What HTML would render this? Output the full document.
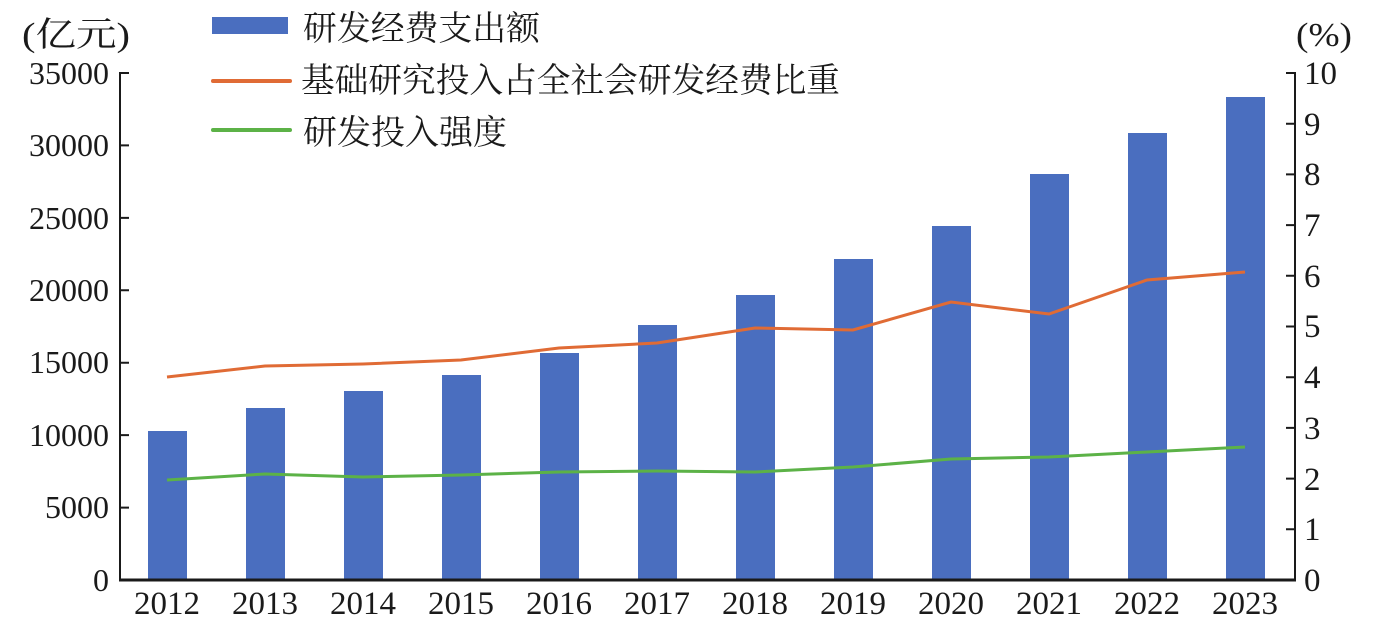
<!DOCTYPE html><html><head><meta charset="utf-8"><style>body{margin:0;background:#fff}svg{display:block}</style></head><body>
<svg width="1380" height="629" xmlns="http://www.w3.org/2000/svg" font-family="Liberation Serif, Noto Serif CJK SC, serif" fill="#1a1a1a">
<g fill="#4a6ebf">
<rect x="148" y="431" width="39" height="149"/><rect x="246" y="408" width="39" height="172"/><rect x="344" y="391" width="39" height="189"/><rect x="442" y="375" width="39" height="205"/><rect x="540" y="353" width="39" height="227"/><rect x="638" y="325" width="39" height="255"/><rect x="736" y="295" width="39" height="285"/><rect x="834" y="259" width="39" height="321"/><rect x="932" y="226" width="39" height="354"/><rect x="1030" y="174" width="39" height="406"/><rect x="1128" y="133" width="39" height="447"/><rect x="1226" y="97" width="39" height="483"/>
</g>
<polyline fill="none" stroke="#e06b35" stroke-width="3" points="167,377 265,366 363,364 461,360 559,348 657,343 755,328 853,330 951,302 1049,314 1147,280 1245,272"/>
<polyline fill="none" stroke="#5cb247" stroke-width="3" points="167,480 265,474 363,477 461,475 559,472 657,471 755,472 853,467 951,459 1049,457 1147,452 1245,447"/>
<g stroke="#1a1a1a" stroke-width="2">
<line x1="120" y1="72" x2="120" y2="581"/><line x1="1295" y1="72" x2="1295" y2="581"/>
<line x1="119" y1="580" x2="1296" y2="580" stroke-width="3"/>
<path d="M120 73h9M120 145.4h9M120 217.9h9M120 290.3h9M120 362.7h9M120 435.1h9M120 507.6h9"/>
<path d="M1286 73h9M1286 123.7h9M1286 174.4h9M1286 225.1h9M1286 275.8h9M1286 326.5h9M1286 377.2h9M1286 427.9h9M1286 478.6h9M1286 529.3h9"/>
</g>
<g font-size="32" text-anchor="end">
<text x="109" y="84">35000</text><text x="109" y="156">30000</text><text x="109" y="229">25000</text><text x="109" y="301">20000</text><text x="109" y="373">15000</text><text x="109" y="446">10000</text><text x="109" y="518">5000</text><text x="109" y="591">0</text>
</g>
<g font-size="33">
<text x="1304" y="84">10</text><text x="1304" y="135">9</text><text x="1304" y="185">8</text><text x="1304" y="236">7</text><text x="1304" y="287">6</text><text x="1304" y="337">5</text><text x="1304" y="388">4</text><text x="1304" y="439">3</text><text x="1304" y="490">2</text><text x="1304" y="540">1</text><text x="1304" y="591">0</text>
</g>
<g font-size="33" text-anchor="middle">
<text x="167" y="614">2012</text><text x="265" y="614">2013</text><text x="363" y="614">2014</text><text x="461" y="614">2015</text><text x="559" y="614">2016</text><text x="657" y="614">2017</text><text x="755" y="614">2018</text><text x="853" y="614">2019</text><text x="951" y="614">2020</text><text x="1049" y="614">2021</text><text x="1147" y="614">2022</text><text x="1245" y="614">2023</text>
</g>
<text x="22" y="46" font-size="34" textLength="108" lengthAdjust="spacingAndGlyphs">(亿元)</text>
<text x="1296" y="46" font-size="34" textLength="56" lengthAdjust="spacingAndGlyphs">(%)</text>
<rect x="212" y="17" width="76" height="17" fill="#4a6ebf"/>
<line x1="213" y1="81" x2="290" y2="81" stroke="#e06b35" stroke-width="4" stroke-linecap="round"/>
<line x1="213" y1="130" x2="290" y2="130" stroke="#5cb247" stroke-width="4" stroke-linecap="round"/>
<g font-size="34">
<text x="303" y="40" textLength="237" lengthAdjust="spacingAndGlyphs">研发经费支出额</text>
<text x="301" y="92" textLength="539" lengthAdjust="spacingAndGlyphs">基础研究投入占全社会研发经费比重</text>
<text x="303" y="144" textLength="204" lengthAdjust="spacingAndGlyphs">研发投入强度</text>
</g>
</svg></body></html>
